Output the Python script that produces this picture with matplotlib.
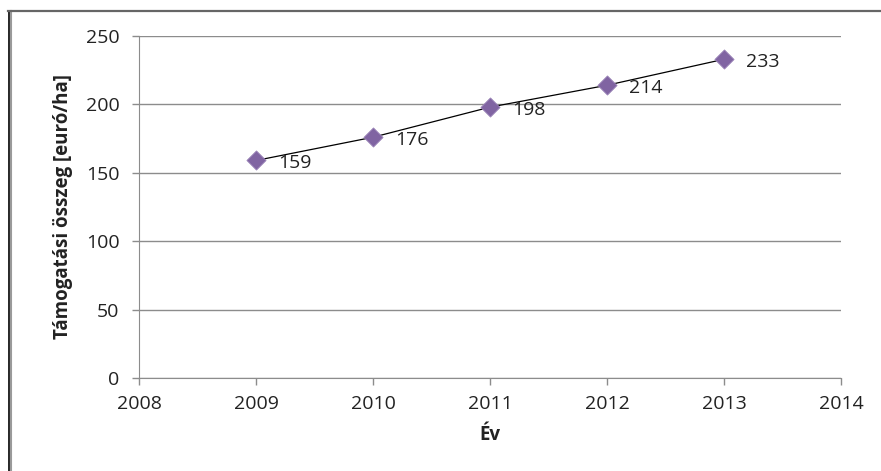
import matplotlib
matplotlib.use('Agg')
import matplotlib.pyplot as plt
from matplotlib.lines import Line2D

# support amount per hectare, by year
years = [2009, 2010, 2011, 2012, 2013]
amounts = [159, 176, 198, 214, 233]

x_ticks = [2008, 2009, 2010, 2011, 2012, 2013, 2014]
y_ticks = [0, 50, 100, 150, 200, 250]

plt.rcParams['font.family'] = ['Open Sans', 'DejaVu Sans']

purple = "#8064a2"
grid_color = "#8c8c8c"
text_color = "#222222"
label_size = 14

fig = plt.figure(figsize=(8.81, 4.71), dpi=100)
ax = fig.add_axes([139 / 881, 1 - 378 / 471, 702 / 881, 342 / 471])

ax.plot(years, amounts, color="black", linewidth=0.9, zorder=2)
ax.scatter(years, amounts, marker="D", s=95, color=purple, edgecolors="#9b84b8",
           linewidths=0.6, zorder=3)

for yr, val in zip(years, amounts):
    ax.annotate(str(val), (yr, val), xytext=(16, -2), textcoords="offset points",
                ha="left", va="center", fontsize=label_size, color=text_color)

ax.set_xlim(2008, 2014)
ax.set_ylim(0, 250)
ax.set_xticks(x_ticks)
ax.set_yticks(y_ticks)
ax.tick_params(axis="both", labelsize=label_size, colors=grid_color, labelcolor=text_color,
               length=5, width=1)
ax.tick_params(axis="x", pad=7)
ax.tick_params(axis="y", pad=9)

ax.grid(True, axis="y", color=grid_color, linewidth=1)
ax.set_axisbelow(True)
for side in ["top", "right"]:
    ax.spines[side].set_visible(False)
ax.spines["left"].set_color(grid_color)
ax.spines["bottom"].set_color(grid_color)

ax.set_xlabel("Év", fontsize=13.5, fontweight="bold", color=text_color, labelpad=9)
ax.set_ylabel("Támogatási összeg [euró/ha]", fontsize=13.5, fontweight="bold",
              color=text_color, labelpad=9)

# outer chart border (left and top edges only, the rest runs off the canvas)
fig.add_artist(Line2D([8.5 / 881, 8.5 / 881], [0, 1 - 10.5 / 471],
                      color="black", linewidth=1.2, transform=fig.transFigure))
fig.add_artist(Line2D([10.5 / 881, 10.5 / 881], [0, 1 - 10.5 / 471],
                      color="#9a9a9a", linewidth=1.5, transform=fig.transFigure))
fig.add_artist(Line2D([8 / 881, 1], [1 - 10.5 / 471, 1 - 10.5 / 471],
                      color="#666666", linewidth=1.6, transform=fig.transFigure))

fig.savefig("out.png", dpi=100, facecolor="white")
